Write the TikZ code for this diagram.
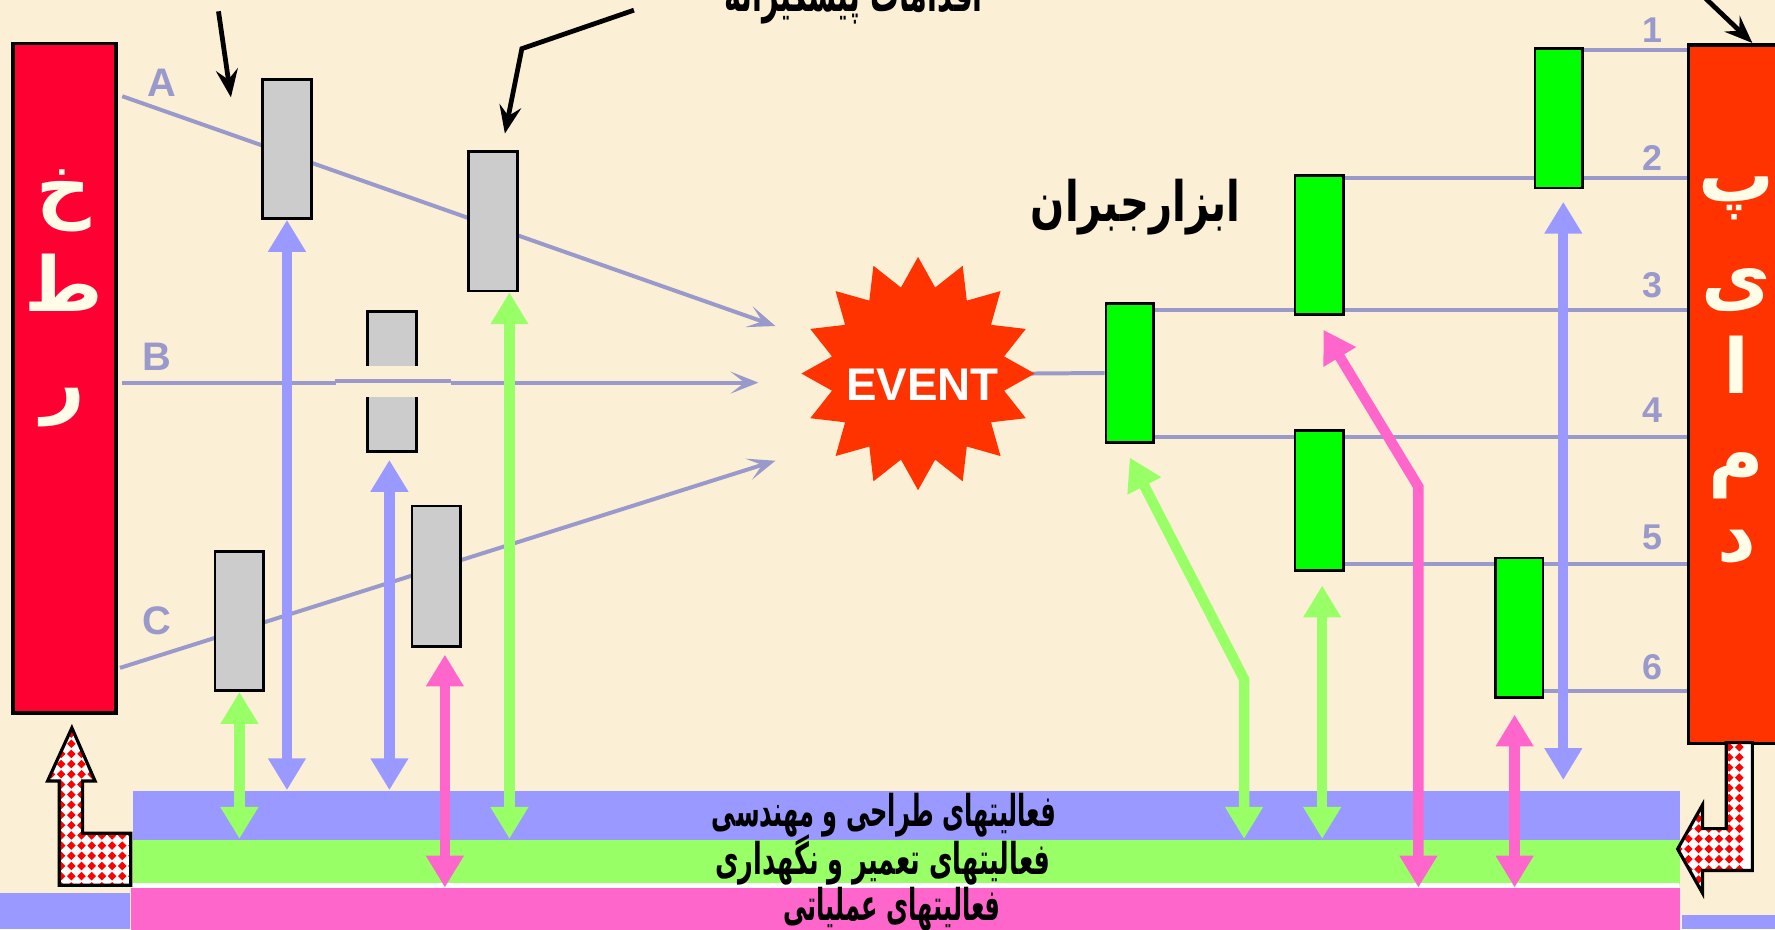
\documentclass[tikz,border=0pt]{standalone}
\usepackage{fontspec}
\setmainfont{Liberation Sans}
\newfontfamily\arabicfont[Script=Arabic]{DejaVu Sans}
\TeXXeTstate=1
\usetikzlibrary{arrows.meta,shapes.geometric}
\pgfdeclarelayer{bg}
\pgfsetlayers{bg,main}
\definecolor{bgcream}{RGB}{251,240,214}
\definecolor{linelav}{RGB}{153,153,204}
\definecolor{arrlav}{RGB}{153,153,255}
\definecolor{arrgreen}{RGB}{153,255,102}
\definecolor{arrpink}{RGB}{255,102,204}
\definecolor{boxgrey}{RGB}{204,204,204}
\definecolor{boxgreen}{RGB}{0,255,0}
\definecolor{barleft}{RGB}{255,0,51}
\definecolor{barright}{RGB}{255,51,0}
\definecolor{ivory}{RGB}{255,252,232}
\definecolor{checkred}{RGB}{255,0,0}
\begin{document}
\begin{tikzpicture}[x=0.01cm,y=-0.01cm,
  greybox/.style={draw=black,line width=0.7pt,fill=boxgrey,minimum width=4.3mm,minimum height=12.3mm,inner sep=0pt},
  greenbox/.style={draw=black,line width=0.7pt,fill=boxgreen,minimum width=4.2mm,minimum height=12.3mm,inner sep=0pt},
  bar/.style={draw=black,line width=0.9pt,inner sep=0pt,anchor=north west},
  band/.style={inner sep=0pt,anchor=north west,minimum width=136.6mm},
  hline/.style={draw=linelav,line width=1pt},
  thinarrow/.style={hline,-{Stealth[length=7pt,width=5.5pt,inset=3.5pt]}},
  varrow/.style={line width=2.6pt,{Triangle[width=9pt,length=8pt]}-{Triangle[width=9pt,length=8pt]}},
  lavarrow/.style={varrow,draw=arrlav},
  grnarrow/.style={varrow,draw=arrgreen},
  pnkarrow/.style={varrow,draw=arrpink},
  callout/.style={draw=black,line width=1.2pt,-{Stealth[length=7pt,width=5.5pt,inset=2.5pt]}},
  lbl/.style={text=linelav,font=\bfseries\fontsize{10}{12}\selectfont,inner sep=0pt},
  numlbl/.style={lbl,font=\bfseries\fontsize{9}{11}\selectfont},
  barletter/.style={text=ivory,font=\arabicfont\bfseries\fontsize{19}{23}\selectfont,inner sep=0pt},
  bandtext/.style={font=\arabicfont\bfseries\fontsize{11}{13}\selectfont,inner sep=0pt},
  checkshape/.style={draw=black,line width=0.8pt}
]
\useasboundingbox (0,0) rectangle (1568,821);
\begin{pgfonlayer}{bg}
  \fill[bgcream] (0,0) rectangle (1568,821);
\end{pgfonlayer}

% side bars
\node[bar,fill=barleft,minimum width=9.1mm,minimum height=59.1mm] (LB) at (10,37) {};
\node[bar,fill=barright,minimum width=12mm,minimum height=61.7mm] (RB) at (1490,38) {};
\node[barletter] (L1) at (56,177) {\beginR خ\endR};
\node[barletter] (L2) at (56,250) {\beginR ط\endR};
\node[barletter] (L3) at (56,360) {\beginR ر\endR};
\node[barletter] (R1) at (1534,175) {\beginR پ\endR};
\node[barletter] (R2) at (1534,256) {\beginR ی\endR};
\node[barletter] (R3) at (1534,322) {\beginR ا\endR};
\node[barletter] (R4) at (1534,420) {\beginR م\endR};
\node[barletter] (R5) at (1534,483) {\beginR د\endR};

% bands
\node[band,fill=arrlav,minimum height=4.3mm] (bandE) at (117,698) {};
\node[band,fill=arrgreen,minimum height=3.9mm] (bandM) at (117,741) {};
\fill[white] (117,780) rectangle (1483,784);
\node[band,fill=arrpink,minimum width=136.8mm,minimum height=4.0mm] (bandO) at (115,784) {};
\fill[arrlav] (0,789) rectangle (115,821);
\fill[arrlav] (1486,808) rectangle (1568,821);
\node[bandtext,xscale=0.55] (tE) at (781,720) {\beginR فعالیتهای طراحی و مهندسی\endR};
\node[bandtext,xscale=0.585] (tM) at (780,760) {\beginR فعالیتهای تعمیر و نگهداری\endR};
\node[bandtext,xscale=0.55] (tO) at (788,803) {\beginR فعالیتهای عملیاتی\endR};

% grey boxes
\node[greybox] (G1) at (253.5,131.5) {};
\node[greybox] (G2) at (435.5,195.5) {};
\node[greybox,minimum height=12.4mm] (G3) at (346.5,337) {};
\node[greybox,minimum height=12.4mm] (G4) at (385.5,509) {};
\node[greybox] (G5) at (211.5,548.5) {};
\node[fill=bgcream,inner sep=0pt,minimum width=10.1mm,minimum height=2.8mm] (G3gap) at (347.5,337) {};

% green boxes
\node[greenbox] (E1) at (998,329.5) {};
\node[greenbox,minimum width=4.3mm] (E2) at (1165.5,216.5) {};
\node[greenbox] (E3) at (1377,104.5) {};
\node[greenbox,minimum width=4.3mm,minimum height=12.4mm] (E4) at (1165.5,442) {};
\node[greenbox] (E5) at (1342,554.5) {};

% event
\node[star,star points=16,star point ratio=1.33,minimum size=20.6mm,inner sep=0pt,fill=barright] (EV) at (811,330) {};
\node[text=white,font=\bfseries\fontsize{11.5}{13}\selectfont,inner sep=0pt] (EVt) at (815,340) {EVENT};

% labels
\node[lbl] (lA) at (143,73) {A};
\node[lbl] (lB) at (139,315) {B};
\node[lbl] (lC) at (139,548) {C};
\node[numlbl] (n1) at (1460,27) {1};
\node[numlbl] (n2) at (1460,140) {2};
\node[numlbl] (n3) at (1460,252) {3};
\node[numlbl] (n4) at (1460,362) {4};
\node[numlbl] (n5) at (1460,475) {5};
\node[numlbl] (n6) at (1460,589) {6};

\node[font=\arabicfont\bfseries\fontsize{13}{15}\selectfont,inner sep=0pt,anchor=base,xscale=0.555] (top) at (754,10) {\beginR اقدامات پیشگیرانه\endR};
\node[font=\arabicfont\bfseries\fontsize{14}{16}\selectfont,inner sep=0pt,xscale=0.72] (abz) at (1003,183) {\beginR ابزارجبران\endR};

% free ends
\coordinate (As) at (108,85);  \coordinate (Ae) at (685,288);
\coordinate (Bs) at (108,338); \coordinate (Be) at (670,338);
\coordinate (Cs) at (106,590); \coordinate (Ce) at (685,407);
\coordinate (y1) at (0,44);  \coordinate (y2) at (0,157);
\coordinate (y3) at (0,274); \coordinate (y4) at (0,386);
\coordinate (y5) at (0,498); \coordinate (y6) at (0,610);

\begin{pgfonlayer}{bg}
  \draw[thinarrow] (As) -- (Ae);
  \draw[thinarrow] (Bs) -- (Be);
  \draw[thinarrow] (Cs) -- (Ce);
  \draw[hline] ([xshift=-0.9mm]EV.east) -- (E1.west);
  \draw[hline] (E3.east |- y1) -- (RB.west |- y1);
  \draw[hline] (E2.east |- y2) -- (RB.west |- y2);
  \draw[hline] (E1.east |- y3) -- (RB.west |- y3);
  \draw[hline] (E1.east |- y4) -- (RB.west |- y4);
  \draw[hline] (E4.east |- y5) -- (RB.west |- y5);
  \draw[hline] (E5.east |- y6) -- (RB.west |- y6);
\end{pgfonlayer}
\draw[hline] (G3gap.west) -- (G3gap.east);

% vertical arrows, left
\draw[grnarrow] (G5.south) -- (G5.south |- bandM.north);
\draw[lavarrow] (G1.south) -- (G1.south |- bandE.north);
\coordinate (c1) at ([xshift=-0.25mm,yshift=-0.6mm]G3.south);
\draw[lavarrow] (c1) -- (c1 |- bandE.north);
\coordinate (d1) at ([xshift=0.75mm,yshift=-0.6mm]G4.south);
\draw[pnkarrow] (d1) -- (d1 |- bandO.north);
\coordinate (e1) at ([xshift=1.45mm]G2.south);
\draw[grnarrow] (e1) -- (e1 |- bandM.north);

% vertical arrows, right
\coordinate (fb) at (1099,600);
\draw[grnarrow] ([yshift=-1.2mm]E1.south) -- (fb) -- (fb |- bandM.north);
\coordinate (g1) at ([xshift=0.25mm,yshift=-1.2mm]E4.south);
\draw[grnarrow] (g1) -- (g1 |- bandM.north);
\coordinate (hb) at (1253,430);
\draw[pnkarrow] ([xshift=0.35mm,yshift=-1.2mm]E2.south) -- (hb) -- (hb |- bandO.north);
\coordinate (i1) at ([xshift=-0.4mm,yshift=-1.4mm]E5.south);
\draw[pnkarrow] (i1) -- (i1 |- bandO.north);
\coordinate (j1) at ([xshift=0.4mm,yshift=-1.1mm]E3.south);
\coordinate (je) at (0,689);
\draw[lavarrow] (j1) -- (j1 |- je);

% callouts
\coordinate (k1s) at (193,10); \coordinate (k1e) at (204,86);
\draw[callout] (k1s) -- (k1e);
\coordinate (k2s) at (560,9); \coordinate (k2m) at (461,43); \coordinate (k2e) at (446,118);
\draw[callout] (k2s) -- (k2m) -- (k2e);
\coordinate (k3s) at (1505,-3); \coordinate (k3e) at (1548,38);
\draw[callout] (k3s) -- (k3e);

% checkered arrows
\begin{scope}
  \clip (63.5,643) -- (84,690) -- (73,690) -- (73,736) -- (115.5,736) -- (115.5,782) -- (52.4,782) -- (52.4,690) -- (42,690) -- cycle;
  \fill[white] (40,640) rectangle (120,785);
  \foreach \i in {-3,...,7} \foreach \j in {0,...,16}
    {\fill[checkred] ({63+\i*9},{648+\j*9}) ++(-3.8,0) -- ++(3.8,-3.8) -- ++(3.8,3.8) -- ++(-3.8,3.8) -- cycle;}
\end{scope}
\draw[checkshape] (63.5,643) -- (84,690) -- (73,690) -- (73,736) -- (115.5,736) -- (115.5,782) -- (52.4,782) -- (52.4,690) -- (42,690) -- cycle;
\begin{scope}
  \clip (1482,750) -- (1504,711) -- (1504,732) -- (1525,732) -- (1525,656) -- (1548,656) -- (1548,769) -- (1504,769) -- (1504,789) -- cycle;
  \fill[white] (1478,650) rectangle (1552,792);
  \foreach \i in {0,...,8} \foreach \j in {0,...,16}
    {\fill[checkred] ({1536.5-\i*9},{660+\j*9}) ++(-3.8,0) -- ++(3.8,-3.8) -- ++(3.8,3.8) -- ++(-3.8,3.8) -- cycle;}
\end{scope}
\draw[checkshape] (1482,750) -- (1504,711) -- (1504,732) -- (1525,732) -- (1525,656) -- (1548,656) -- (1548,769) -- (1504,769) -- (1504,789) -- cycle;
\end{tikzpicture}
\end{document}
